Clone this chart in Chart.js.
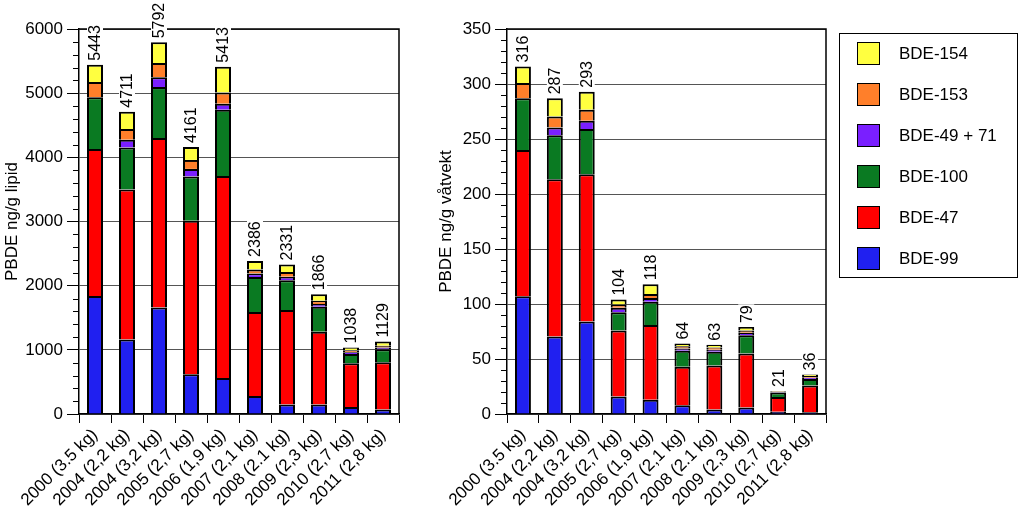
<!DOCTYPE html>
<html><head><meta charset="utf-8">
<script src="https://cdn.jsdelivr.net/npm/chart.js@4/dist/chart.umd.min.js"></script>
<style>
html,body{margin:0;padding:0;background:#fff;width:1024px;height:513px;overflow:hidden;font-family:"Liberation Sans",Arial,sans-serif;}
canvas{position:absolute;top:0;}
#c1{left:0;}
#c2{left:434px;}
#legend{position:absolute;left:839px;top:33px;width:177px;height:243px;border:1.5px solid #000;}
.item{position:absolute;left:17px;height:24px;}
.sw{position:absolute;left:0;top:0;width:21px;height:21px;border:1.5px solid #000;}
.lt{position:absolute;left:42px;top:1px;font-size:17px;line-height:22px;white-space:nowrap;color:#000;}
</style></head>
<body>
<canvas id="c1" width="420" height="513"></canvas>
<canvas id="c2" width="406" height="513"></canvas>
<div id="legend"></div>
<script>
const categories = ["2000 (3.5 kg)","2004 (2,2 kg)","2004 (3,2 kg)","2005 (2,7 kg)","2006 (1,9 kg)","2007 (2,1 kg)","2008 (2.1 kg)","2009 (2,3 kg)","2010 (2,7 kg)","2011 (2,8 kg)"];
const seriesNames = ["BDE-99","BDE-47","BDE-100","BDE-49 + 71","BDE-153","BDE-154"];
const seriesColors = ["#2020f0","#ff0000","#0a7a22","#7a1fff","#ff7f2a","#ffff40"];

// ng/g lipid
const lipidBDE99   = [1840,1160,1660,620,560,280,150,150,110,70];
const lipidBDE47   = [2290,2340,2640,2390,3150,1310,1470,1130,680,735];
const lipidBDE100  = [805,655,795,690,1030,545,465,390,145,205];
const lipidBDE4971 = [0,120,155,120,95,55,55,45,28,25];
const lipidBDE153  = [240,165,220,140,175,62,72,50,30,30];
const lipidBDE154  = [268,271,322,201,403,134,119,101,45,64];
const lipidTotals  = [5443,4711,5792,4161,5413,2386,2331,1866,1038,1129];
const lipidTicks   = {min:0,max:6000,major:1000,minor:200};

// ng/g wet weight
const wetBDE99   = [107,70.5,84,16,13,8,4,6,2,1.5];
const wetBDE47   = [133,143,134,60,68,35,40,49,13.5,24.5];
const wetBDE100  = [47,40,41,16.5,21,14.5,12.5,16.5,4,5.8];
const wetBDE4971 = [0,7,7.5,4,3.5,2,2,2.3,0.4,1.2];
const wetBDE153  = [14,10,10,3,3.5,2,2,2,0.5,1.5];
const wetBDE154  = [15,16.5,16.5,4.5,9,2.5,2.5,3.2,0.6,1.5];
const wetTotals  = [316,287,293,104,118,64,63,79,21,36];
const wetTicks   = {min:0,max:350,major:50,minor:10};

const FONT = '"Liberation Sans", Arial, sans-serif';

// legend
const leg = document.getElementById('legend');
for (let k = seriesNames.length - 1, r = 0; k >= 0; k--, r++) {
  const it = document.createElement('div');
  it.className = 'item';
  it.style.top = (8 + r * 41) + 'px';
  it.innerHTML = '<div class="sw" style="background:' + seriesColors[k] + '"></div><div class="lt">' + seriesNames[k] + '</div>';
  leg.appendChild(it);
}

const framePlugin = {
  id: 'frame',
  afterDatasetsDraw(chart) {
    const a = chart.chartArea, ctx = chart.ctx;
    ctx.save();
    ctx.strokeStyle = '#000'; ctx.lineWidth = 1.5;
    ctx.beginPath();
    ctx.moveTo(a.left, a.top); ctx.lineTo(a.right, a.top); ctx.lineTo(a.right, a.bottom);
    ctx.stroke();
    // minor ticks
    const ys = chart.scales.y, t = chart.options.plugins.frame;
    ctx.lineWidth = 1;
    for (let v = t.min; v <= t.max; v += t.minor) {
      if (v % t.major === 0) continue;
      const py = Math.round(ys.getPixelForValue(v)) + 0.5;
      ctx.beginPath(); ctx.moveTo(a.left - 6, py); ctx.lineTo(a.left, py); ctx.stroke();
    }
    ctx.restore();
  }
};

const totalsPlugin = {
  id: 'totals',
  afterDatasetsDraw(chart) {
    const totals = chart.options.plugins.totals.values;
    const meta = chart.getDatasetMeta(chart.data.datasets.length - 1);
    const ctx = chart.ctx;
    ctx.save();
    ctx.font = '16px ' + FONT;
    meta.data.forEach((el, i) => {
      const txt = String(totals[i]);
      const w = ctx.measureText(txt).width;
      ctx.save();
      ctx.translate(el.x, el.y - 4);
      ctx.rotate(-Math.PI / 2);
      ctx.fillStyle = '#fff';
      ctx.fillRect(-1, -8, w + 2, 16);
      ctx.fillStyle = '#000';
      ctx.textAlign = 'left';
      ctx.textBaseline = 'middle';
      ctx.fillText(txt, 0, 1);
      ctx.restore();
    });
    ctx.restore();
  }
};

function makeChart(id, series, totals, ticks, title, yWidth, padRight) {
  const datasets = series.map((d, k) => ({
    label: seriesNames[k],
    data: d,
    backgroundColor: seriesColors[k],
    borderColor: '#000',
    borderWidth: 2,
    borderSkipped: 'start',
    barPercentage: 0.5,
    categoryPercentage: 1.0
  }));
  return new Chart(document.getElementById(id), {
    type: 'bar',
    data: { labels: categories, datasets },
    plugins: [framePlugin, totalsPlugin],
    options: {
      responsive: false,
      animation: false,
      layout: { padding: { top: 29, right: padRight, left: 0, bottom: 0 } },
      plugins: {
        legend: { display: false },
        tooltip: { enabled: false },
        frame: ticks,
        totals: { values: totals }
      },
      scales: {
        x: {
          stacked: true,
          afterFit(s) { s.height = 99; },
          grid: { offset: true, drawOnChartArea: false, tickLength: 9, tickColor: '#000', lineWidth: 1 },
          border: { color: '#000', width: 1.5 },
          ticks: { autoSkip: false, maxRotation: 45, minRotation: 45, padding: 2, color: '#000', font: { family: FONT, size: 17 } }
        },
        y: {
          stacked: true,
          min: ticks.min, max: ticks.max,
          afterFit(s) { s.width = yWidth; },
          grid: { color: '#555', tickColor: '#000', tickLength: 12, lineWidth: 1 },
          border: { color: '#000', width: 1.5 },
          ticks: { stepSize: ticks.major, padding: 4, color: '#000', font: { family: FONT, size: 17 }, callback: v => String(v) },
          title: { display: true, text: title, color: '#000', font: { family: FONT, size: 17 }, padding: { top: 2, bottom: 2 } }
        }
      }
    }
  });
}

makeChart('c1', [lipidBDE99, lipidBDE47, lipidBDE100, lipidBDE4971, lipidBDE153, lipidBDE154], lipidTotals, lipidTicks, 'PBDE ng/g lipid', 79, 21);
makeChart('c2', [wetBDE99, wetBDE47, wetBDE100, wetBDE4971, wetBDE153, wetBDE154], wetTotals, wetTicks, 'PBDE ng/g våtvekt', 73, 14);
</script>
</body></html>
